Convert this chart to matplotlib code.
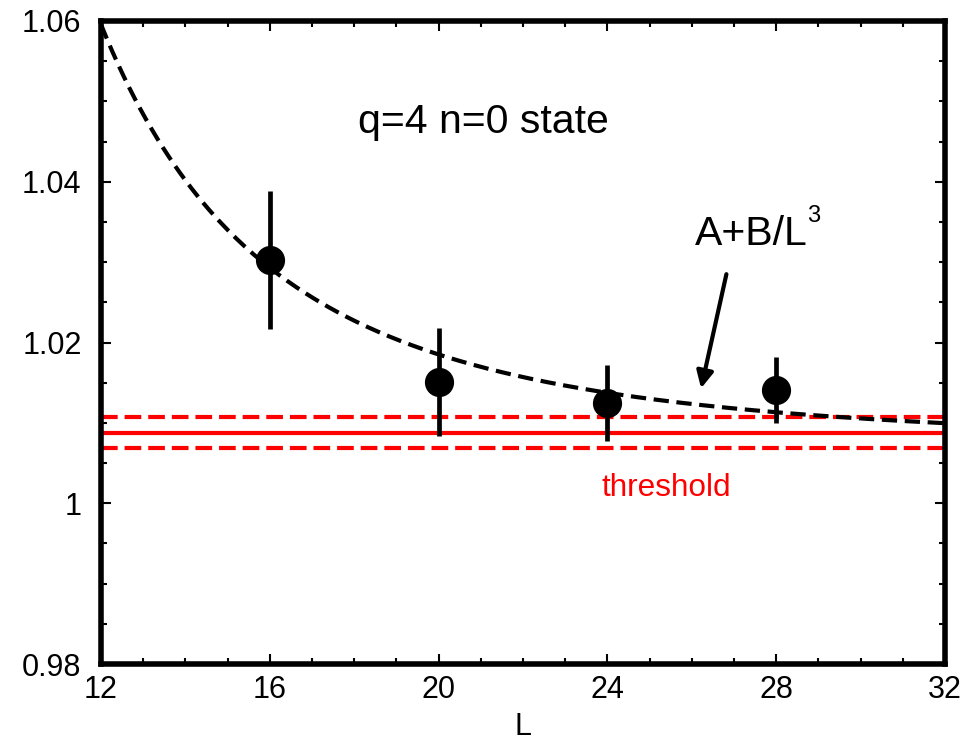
import numpy as np
import matplotlib
matplotlib.use("Agg")
import matplotlib.pyplot as plt
from matplotlib.ticker import MultipleLocator, FixedFormatter, FixedLocator

plt.rcParams['font.family'] = ['Liberation Sans', 'DejaVu Sans']
plt.rcParams['lines.scale_dashes'] = False

# data
L_vals = [16, 20, 24, 28]
E_vals = [1.0303, 1.0151, 1.0125, 1.0141]
E_err = [0.0086, 0.0067, 0.0047, 0.0041]

fit_A = 1.0072
fit_B = 90.5
fit_L = np.linspace(12, 32, 300)

threshold = 1.0088
threshold_err = 0.0019

xticks = [12, 16, 20, 24, 28, 32]
xticklabels = ['12', '16', '20', '24', '28', '32']
yticks = [0.98, 1.00, 1.02, 1.04, 1.06]
yticklabels = ['0.98', '1', '1.02', '1.04', '1.06']

fig = plt.figure(figsize=(9.78, 7.47), dpi=100)
ax = fig.add_axes([101/978, 1 - 664/747, (945 - 101)/978, (664 - 21)/747])

red = '#ff0000'
ax.plot([12, 32], [threshold, threshold], color=red, lw=3, zorder=2)
ax.plot([12, 32], [threshold + threshold_err] * 2, color=red, lw=3,
        linestyle=(0, (12, 5)), zorder=2)
ax.plot([12, 32], [threshold - threshold_err] * 2, color=red, lw=3,
        linestyle=(0, (12, 5)), zorder=2)

ax.plot(fit_L, fit_A + fit_B / fit_L**3, color='black', lw=3,
        linestyle=(0, (11, 5.5)), zorder=3)

ax.errorbar(L_vals, E_vals, yerr=E_err, fmt='o', color='black', ms=20,
            elinewidth=3.4, capsize=0, zorder=4)

ax.set_xlim(12, 32)
ax.set_ylim(0.98, 1.06)
ax.xaxis.set_major_locator(FixedLocator(xticks))
ax.xaxis.set_major_formatter(FixedFormatter(xticklabels))
ax.xaxis.set_minor_locator(MultipleLocator(1))
ax.yaxis.set_major_locator(FixedLocator(yticks))
ax.yaxis.set_major_formatter(FixedFormatter(yticklabels))
ax.yaxis.set_minor_locator(MultipleLocator(0.005))

ax.tick_params(which='both', direction='in', top=True, right=True, width=1.5)
ax.tick_params(which='major', length=7)
ax.tick_params(which='minor', length=4)
ax.tick_params(axis='x', which='major', labelsize=22, pad=8)
ax.tick_params(axis='y', which='major', labelsize=22, pad=14)
for s in ax.spines.values():
    s.set_linewidth(4)

ax.set_xlabel('L', fontsize=22, labelpad=5)

ax.text(18.1, 1.0461, 'q=4 n=0 state', fontsize=29.5, ha='left', va='baseline')
ax.text(26.08, 1.0321, 'A+B/L', fontsize=29.5, ha='left', va='baseline')
ax.text(28.73, 1.0350, '3', fontsize=17, ha='left', va='baseline')
ax.text(23.86, 1.0009, 'threshold', fontsize=22.7, color=red, ha='left', va='baseline')

ax.annotate('', xy=(26.22, 1.0143), xytext=(26.82, 1.0285),
            arrowprops=dict(arrowstyle='-|>,head_length=1.0,head_width=0.5',
                            color='black', lw=3, shrinkA=0, shrinkB=0))

fig.savefig('out.png', dpi=100)
